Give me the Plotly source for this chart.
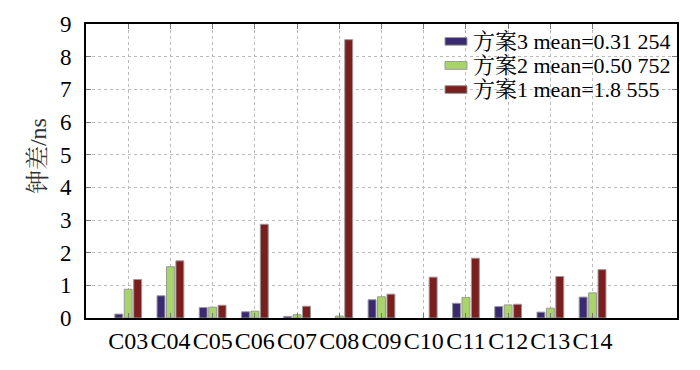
import plotly.graph_objects as go

categories = ["C03", "C04", "C05", "C06", "C07", "C08", "C09", "C10", "C11", "C12", "C13", "C14"]
scheme3 = [0.12, 0.68, 0.32, 0.19, 0.05, None, 0.56, None, 0.45, 0.35, 0.18, 0.64]
scheme2 = [0.88, 1.57, 0.33, 0.21, 0.10, 0.06, 0.65, None, 0.63, 0.40, 0.30, 0.77]
scheme1 = [1.18, 1.75, 0.39, 2.87, 0.36, 8.52, 0.73, 1.25, 1.83, 0.42, 1.27, 1.48]
names = ["方案3 mean=0.31 254", "方案2 mean=0.50 752", "方案1 mean=1.8 555"]
colors = ["#3b2a72", "#a8d46a", "#7a1e1e"]
y_ticks = list(range(0, 10))
y_title = "钟差/ns"

FONT = "Times New Roman, Liberation Serif, Noto Serif CJK SC, Noto Sans CJK SC, serif"

# plot area in pixels (for legend placement)
L, R, T, B = 86, 677, 13, 318
def px(x):
    return (x - L) / (R - L)
def py(y):
    return (B - y) / (B - T)

fig = go.Figure()
for vals, name, col in zip([scheme3, scheme2, scheme1], names, colors):
    fig.add_trace(go.Bar(
        x=categories, y=vals, name=name, showlegend=False,
        marker=dict(color=col, line=dict(color="#999999", width=1)),
    ))

shapes = [dict(type="rect", xref="paper", yref="paper", layer="between",
               x0=px(440), x1=px(676), y0=py(95), y1=py(14),
               fillcolor="white", line=dict(width=0))]
annotations = []
row_y = [31, 56, 81]
for name, col, ry in zip(names, colors, row_y):
    shapes.append(dict(type="rect", xref="paper", yref="paper", layer="above",
                       x0=px(445), x1=px(467), y0=py(ry + 4), y1=py(ry - 4),
                       fillcolor=col, line=dict(color="#999999", width=1)))
    annotations.append(dict(xref="paper", yref="paper", x=px(471), y=py(ry),
                            xanchor="left", yanchor="middle", showarrow=False,
                            text=name, font=dict(family=FONT, size=22, color="black")))
annotations.append(dict(xref="paper", yref="paper", x=px(38), y=py(150),
                        xanchor="center", yanchor="middle", showarrow=False,
                        textangle=-90, text=y_title,
                        font=dict(family=FONT, size=24, color="#333333")))

fig.update_layout(
    width=700, height=370,
    margin=dict(l=L, r=700 - R, t=T, b=370 - B),
    barmode="group", bargap=0.33, bargroupgap=0.16,
    plot_bgcolor="white", paper_bgcolor="white",
    font=dict(family=FONT, color="black", size=21),
    showlegend=False,
    shapes=shapes, annotations=annotations,
    xaxis=dict(
        type="category", range=[-1, 13],
        showline=True, linecolor="black", linewidth=2, mirror="allticks",
        ticks="inside", ticklen=5, tickcolor="#777777",
        showgrid=True, gridcolor="#bbbbbb", griddash="dot", gridwidth=1,
        tickfont=dict(family=FONT, size=24, color="black"),
        zeroline=False,
    ),
    yaxis=dict(
        range=[0, 9], tickvals=y_ticks,
        showline=True, linecolor="black", linewidth=2, mirror="allticks",
        ticks="inside", ticklen=5, tickcolor="#777777",
        showgrid=True, gridcolor="#bbbbbb", griddash="dot", gridwidth=1,
        tickfont=dict(family=FONT, size=23, color="black"),
        ticklabelstandoff=8,
        zeroline=False,
    ),
)

fig.write_html("out.html")
